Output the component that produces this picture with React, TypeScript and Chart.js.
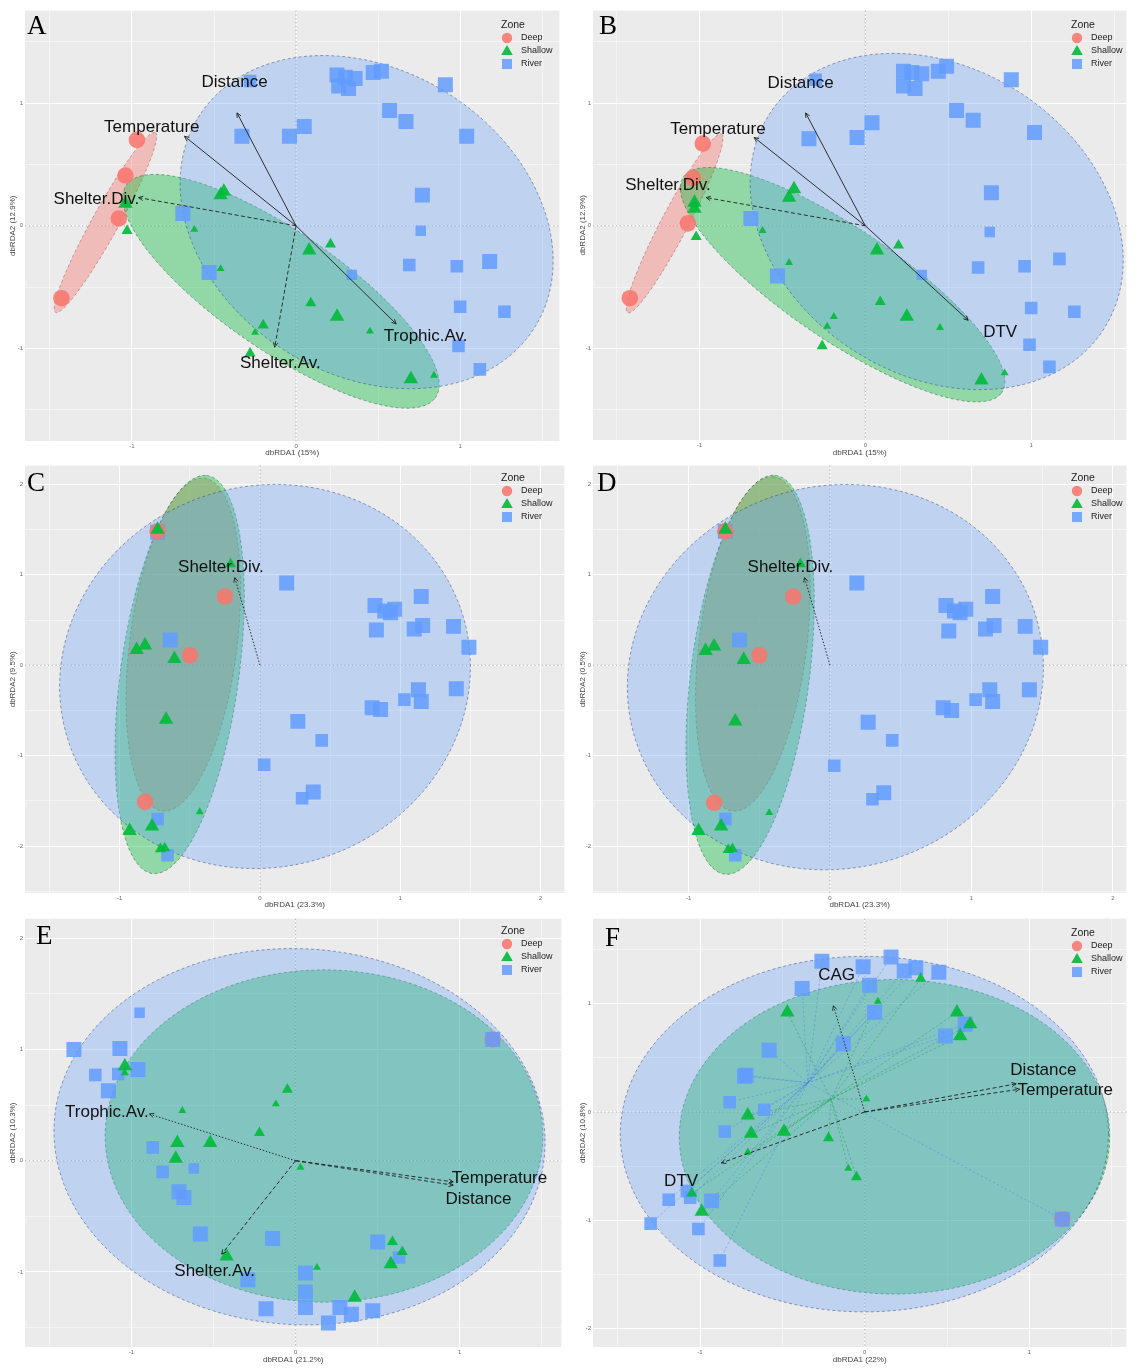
import React, { useEffect, useRef } from "react";
import { Chart, registerables } from "chart.js";

Chart.register(...registerables);
Chart.defaults.font.family = '"Liberation Sans", Arial, sans-serif';

type P2 = [number, number];
type P3 = [number, number, number]; // x, y, size class (1 small .. 3 large)

const ZONES = ["Deep", "Shallow", "River"];

// ---------------- Panel A ----------------
const A_DEEP: P3[] = [[-0.97, 0.70, 3], [-1.04, 0.41, 3], [-1.08, 0.06, 3], [-1.43, -0.59, 3]];
const A_SHALLOW: P3[] = [
  [-0.44, 0.28, 3], [-0.46, 0.25, 3], [-1.04, 0.18, 3], [-1.03, -0.04, 2], [-0.62, -0.03, 1],
  [-0.46, -0.35, 1], [0.08, -0.20, 3], [0.21, -0.15, 2], [0.09, -0.63, 2], [0.25, -0.74, 3],
  [-0.20, -0.81, 2], [-0.25, -0.87, 1], [0.45, -0.86, 1], [-0.28, -1.04, 2], [0.70, -1.25, 3],
  [0.84, -1.22, 1],
];
const A_RIVER: P3[] = [
  [-0.28, 1.18, 2], [0.25, 1.23, 3], [0.30, 1.21, 3], [0.36, 1.20, 3], [0.26, 1.14, 3],
  [0.32, 1.12, 3], [0.47, 1.25, 3], [0.52, 1.26, 3], [0.91, 1.15, 3], [0.57, 0.94, 3],
  [0.67, 0.85, 3], [0.05, 0.81, 3], [-0.04, 0.73, 3], [-0.33, 0.73, 3], [1.04, 0.73, 3],
  [0.77, 0.25, 3], [-0.69, 0.10, 3], [0.76, -0.04, 1], [0.69, -0.32, 2], [0.98, -0.33, 2],
  [1.18, -0.29, 3], [-0.53, -0.38, 3], [0.34, -0.40, 1], [1.00, -0.66, 2], [1.27, -0.70, 2],
  [0.99, -0.98, 2], [1.12, -1.17, 2],
];
// ellipse: centre x, centre y, axis-1 (x, y), axis-2 (x, y)
const A_ELL_DEEP = [-1.162, 0.027, 0.303, 0.733, 0.074, -0.046];
const A_ELL_SHALLOW = [-0.092, -0.534, 0.936, -0.876, -0.232, -0.375];
const A_ELL_RIVER = [0.43, 0.03, 1.129, -0.162, -0.132, 1.348];
const A_VARS = ["Distance", "Temperature", "Shelter.Div.", "Trophic.Av.", "Shelter.Av."];
const A_TIPS: P2[] = [[-0.36, 0.92], [-0.68, 0.73], [-0.96, 0.23], [0.61, -0.80], [-0.13, -0.99]];
const A_LABELS: P2[] = [[-0.375, 1.172], [-0.879, 0.80], [-1.217, 0.218], [0.79, -0.897], [-0.096, -1.124]];
const A_XTICKS = [-1, 0, 1];
const A_YTICKS = [-1, 0, 1];

// ---------------- Panel B ----------------
const B_DEEP: P3[] = [[-0.98, 0.67, 3], [-1.04, 0.39, 3], [-1.07, 0.02, 3], [-1.42, -0.59, 3]];
const B_SHALLOW: P3[] = [
  [-0.43, 0.30, 3], [-0.46, 0.23, 3], [-1.03, 0.19, 3], [-1.03, 0.14, 3], [-1.02, -0.09, 2],
  [-0.62, -0.04, 1], [-0.46, -0.30, 1], [0.07, -0.20, 3], [0.20, -0.16, 2], [0.09, -0.62, 2],
  [0.25, -0.74, 3], [-0.19, -0.74, 1], [-0.23, -0.82, 1], [0.45, -0.83, 1], [-0.26, -0.98, 2],
  [0.70, -1.26, 3], [0.84, -1.20, 1],
];
const B_RIVER: P3[] = [
  [-0.30, 1.19, 2], [0.23, 1.26, 3], [0.28, 1.25, 3], [0.34, 1.24, 3], [0.23, 1.14, 3],
  [0.30, 1.12, 3], [0.44, 1.26, 3], [0.49, 1.30, 3], [0.88, 1.19, 3], [0.55, 0.94, 3],
  [0.65, 0.86, 3], [0.04, 0.84, 3], [-0.05, 0.72, 3], [-0.34, 0.71, 3], [1.02, 0.76, 3],
  [0.76, 0.27, 3], [-0.69, 0.06, 3], [0.75, -0.05, 1], [0.68, -0.34, 2], [0.96, -0.33, 2],
  [1.17, -0.27, 2], [-0.53, -0.41, 3], [0.34, -0.40, 1], [1.00, -0.67, 2], [1.26, -0.70, 2],
  [0.99, -0.97, 2], [1.11, -1.15, 2],
];
const B_ELL_DEEP = [-1.15, 0.02, 0.282, 0.728, 0.074, -0.044];
const B_ELL_SHALLOW = [-0.137, -0.48, 0.954, -0.889, -0.217, -0.35];
const B_ELL_RIVER = [0.43, 0.035, 1.117, -0.162, -0.13, 1.361];
const B_VARS = ["Distance", "Temperature", "Shelter.Div.", "DTV"];
const B_TIPS: P2[] = [[-0.36, 0.92], [-0.67, 0.72], [-0.96, 0.23], [0.62, -0.77]];
const B_LABELS: P2[] = [[-0.39, 1.164], [-0.889, 0.79], [-1.19, 0.33], [0.813, -0.865]];
const B_XTICKS = [-1, 0, 1];
const B_YTICKS = [-1, 0, 1];

// ---------------- Panel C ----------------
const C_DEEP: P3[] = [[-0.73, 1.48, 3], [-0.25, 0.76, 3], [-0.50, 0.11, 3], [-0.82, -1.51, 3]];
const C_SHALLOW: P3[] = [
  [-0.73, 1.50, 3], [-0.21, 1.12, 2], [-0.88, 0.17, 3], [-0.82, 0.22, 3], [-0.61, 0.07, 3],
  [-0.67, -0.60, 3], [-0.43, -1.62, 1], [-0.93, -1.83, 3], [-0.77, -1.78, 3], [-0.71, -2.03, 2],
  [-0.68, -2.02, 2],
];
const C_RIVER: P3[] = [
  [-0.73, 1.47, 3], [-0.64, 0.28, 3], [0.19, 0.91, 3], [1.15, 0.76, 3], [0.82, 0.66, 3],
  [0.89, 0.60, 3], [0.96, 0.62, 3], [0.93, 0.58, 3], [0.83, 0.39, 3], [1.10, 0.40, 3],
  [1.16, 0.44, 3], [1.38, 0.43, 3], [1.49, 0.20, 3], [1.13, -0.27, 3], [1.40, -0.26, 3],
  [1.03, -0.38, 2], [1.15, -0.40, 3], [0.80, -0.47, 3], [0.86, -0.49, 3], [0.27, -0.62, 3],
  [0.44, -0.83, 2], [0.03, -1.10, 2], [0.38, -1.40, 3], [0.30, -1.47, 2], [-0.73, -1.70, 2],
  [-0.66, -2.10, 2],
];
const C_ELL_DEEP = [-0.547, 0.229, 0.148, 1.84, 0.381, -0.062];
const C_ELL_SHALLOW = [-0.573, -0.102, 0.192, 2.2, 0.419, -0.073];
const C_ELL_RIVER = [0.036, -0.124, 1.465, 0.109, 0, 2.12];
const C_VARS = ["Shelter.Div."];
const C_TIPS: P2[] = [[-0.18, 0.97]];
const C_LABELS: P2[] = [[-0.279, 1.08]];
const C_XTICKS = [-1, 0, 1, 2];
const C_YTICKS = [-2, -1, 0, 1, 2];

// ---------------- Panel D ----------------
const D_DEEP: P3[] = [[-0.74, 1.48, 3], [-0.26, 0.76, 3], [-0.50, 0.11, 3], [-0.82, -1.52, 3]];
const D_SHALLOW: P3[] = [
  [-0.74, 1.50, 3], [-0.21, 1.12, 2], [-0.88, 0.16, 3], [-0.82, 0.21, 3], [-0.61, 0.06, 3],
  [-0.67, -0.62, 3], [-0.43, -1.63, 1], [-0.93, -1.83, 3], [-0.77, -1.78, 3], [-0.72, -2.04, 2],
  [-0.69, -2.03, 2],
];
const D_RIVER: P3[] = [
  [-0.74, 1.48, 3], [-0.64, 0.28, 3], [0.19, 0.91, 3], [1.15, 0.76, 3], [0.82, 0.66, 3],
  [0.88, 0.60, 3], [0.96, 0.62, 3], [0.92, 0.58, 3], [0.84, 0.38, 3], [1.10, 0.40, 3],
  [1.16, 0.44, 3], [1.38, 0.43, 3], [1.49, 0.20, 3], [1.13, -0.27, 3], [1.41, -0.27, 3],
  [1.03, -0.38, 2], [1.15, -0.40, 3], [0.80, -0.47, 3], [0.86, -0.50, 3], [0.27, -0.63, 3],
  [0.44, -0.83, 2], [0.03, -1.11, 2], [0.38, -1.41, 3], [0.30, -1.48, 2], [-0.74, -1.70, 2],
  [-0.67, -2.10, 2],
];
const D_ELL_DEEP = [-0.545, 0.236, 0.145, 1.847, 0.379, -0.062];
const D_ELL_SHALLOW = [-0.565, -0.105, 0.178, 2.204, 0.417, -0.073];
const D_ELL_RIVER = [0.038, -0.131, 1.471, 0.109, 0, 2.127];
const D_VARS = ["Shelter.Div."];
const D_TIPS: P2[] = [[-0.18, 0.97]];
const D_LABELS: P2[] = [[-0.28, 1.08]];
const D_XTICKS = [-1, 0, 1, 2];
const D_YTICKS = [-2, -1, 0, 1, 2];

// ---------------- Panel E ----------------
const E_DEEP: P3[] = [[1.20, 1.09, 3]];
const E_SHALLOW: P3[] = [
  [-1.04, 0.85, 3], [-1.04, 0.79, 1], [-0.05, 0.64, 2], [-0.12, 0.51, 1], [-0.69, 0.45, 1],
  [-0.22, 0.25, 2], [-0.72, 0.16, 3], [-0.52, 0.16, 3], [-0.73, 0.02, 3], [0.03, -0.06, 1],
  [-0.42, -0.86, 3], [0.59, -0.73, 2], [0.65, -0.82, 2], [0.58, -0.93, 3], [0.13, -0.96, 1],
  [0.36, -1.23, 3],
];
const E_RIVER: P3[] = [
  [-0.95, 1.33, 1], [-1.35, 1.00, 3], [-1.07, 1.01, 3], [-1.22, 0.77, 2], [-1.08, 0.78, 2],
  [-0.96, 0.82, 3], [-1.14, 0.63, 3], [-0.87, 0.12, 2], [-0.81, -0.10, 2], [-0.62, -0.07, 1],
  [-0.71, -0.28, 3], [-0.68, -0.33, 3], [-0.58, -0.66, 3], [-0.14, -0.70, 3], [0.50, -0.73, 3],
  [0.63, -0.87, 2], [0.06, -1.01, 3], [-0.29, -1.07, 3], [0.06, -1.18, 3], [0.06, -1.32, 3],
  [-0.18, -1.33, 3], [0.27, -1.32, 3], [0.34, -1.38, 3], [0.47, -1.35, 3], [0.20, -1.46, 3],
  [1.20, 1.09, 3],
];
const E_ELL_SHALLOW = [0.173, 0.222, 1.333, 0, 0, 1.494];
const E_ELL_RIVER = [0.024, 0.216, 1.495, 0, -0.044, 1.692];
const E_VARS = ["Trophic.Av.", "Temperature", "Distance", "Shelter.Av."];
const E_TIPS: P2[] = [[-0.89, 0.42], [0.96, -0.22], [0.96, -0.19], [-0.45, -0.84]];
const E_LABELS: P2[] = [[-1.149, 0.437], [1.242, -0.158], [1.114, -0.344], [-0.493, -0.993]];
const E_XTICKS = [-1, 0, 1];
const E_YTICKS = [-1, 0, 1, 2];

// ---------------- Panel F ----------------
const F_DEEP: P3[] = [[1.20, -0.99, 3]];
const F_SHALLOW: P3[] = [
  [0.34, 1.23, 2], [0.08, 1.02, 1], [-0.47, 0.92, 3], [0.56, 0.92, 3], [0.64, 0.81, 3],
  [0.58, 0.70, 3], [0.01, 0.12, 1], [-0.71, -0.03, 3], [-0.69, -0.20, 3], [-0.49, -0.18, 3],
  [-0.22, -0.24, 2], [-0.71, -0.37, 1], [-0.10, -0.52, 1], [-0.05, -0.60, 2], [-1.05, -0.75, 2],
  [-0.99, -0.92, 3],
];
const F_RIVER: P3[] = [
  [-0.26, 1.39, 3], [-0.01, 1.34, 3], [0.16, 1.43, 3], [0.24, 1.30, 3], [0.31, 1.33, 3],
  [0.45, 1.29, 3], [0.03, 1.17, 3], [-0.38, 1.14, 3], [0.06, 0.92, 3], [0.61, 0.81, 3],
  [0.49, 0.70, 3], [-0.13, 0.63, 3], [-0.58, 0.57, 3], [-0.73, 0.33, 3], [-0.72, 0.34, 3],
  [-0.82, 0.09, 2], [-0.61, 0.02, 2], [-0.85, -0.18, 2], [-1.08, -0.73, 2], [-1.19, -0.81, 2],
  [-1.06, -0.79, 2], [-0.93, -0.82, 3], [-1.30, -1.03, 2], [-1.01, -1.08, 2], [-0.88, -1.37, 2],
  [1.20, -0.99, 3],
];
const F_ELL_SHALLOW = [0.181, -0.229, 1.307, 0, 0, 1.451];
const F_ELL_RIVER = [-0.002, -0.204, 1.482, 0, 0, 1.64];
const F_VARS = ["CAG", "Distance", "Temperature", "DTV"];
const F_TIPS: P2[] = [[-0.19, 0.98], [0.92, 0.26], [0.94, 0.21], [-0.87, -0.47]];
const F_LABELS: P2[] = [[-0.171, 1.263], [1.085, 0.384], [1.217, 0.201], [-1.115, -0.64]];
const F_XTICKS = [-1, 0, 1];
const F_YTICKS = [-2, -1, 0, 1];

// ---------------- styling ----------------
const COL = {
  deep: "rgba(248,118,109,0.88)",
  shallow: "rgba(0,186,56,0.9)",
  river: "rgba(97,156,255,0.85)",
  deepFill: "rgba(248,118,109,0.40)",
  shallowFill: "rgba(0,186,56,0.38)",
  riverFill: "rgba(100,160,250,0.32)",
  deepLine: "rgba(150,60,55,0.55)",
  shallowLine: "rgba(20,90,45,0.6)",
  riverLine: "rgba(40,60,120,0.6)",
};
const DASH: Record<string, number[]> = { solid: [], dashed: [4, 2.5], dotted: [1.5, 1.8] };
const RADIUS: Record<string, number[]> = {
  rect: [0, 7.4, 8.9, 10.6],
  triangle: [0, 4.6, 6.4, 8.3],
  circle: [0, 5.5, 6.8, 8.3],
};

interface Box { l: number; t: number; w: number; h: number }
interface PBox { l: number; t: number; r: number; b: number }
interface Spec {
  letter: string;
  canvas: Box;
  plot: PBox;
  xRange: P2;
  yRange: P2;
  xTicks: number[];
  yTicks: number[];
  xTitle: string;
  yTitle: string;
  xTitleY: number;
  letterPos: P2;
  deep: P3[];
  shallow: P3[];
  river: P3[];
  ellDeep?: number[];
  ellShallow?: number[];
  ellRiver?: number[];
  vars: string[];
  tips: P2[];
  labels: P2[];
  dashes: string[];
  spider?: boolean;
  riverOverDeep?: boolean;
}

const SPECS: Spec[] = [
  {
    letter: "A", canvas: { l: 0, t: 0, w: 570, h: 460 }, plot: { l: 25, t: 7, r: 565, b: 441 },
    xRange: [-1.652, 1.605], yRange: [-1.754, 1.754], xTicks: A_XTICKS, yTicks: A_YTICKS,
    xTitle: "dbRDA1 (15%)", yTitle: "dbRDA2 (12.9%)", xTitleY: 453, letterPos: [27, 15],
    deep: A_DEEP, shallow: A_SHALLOW, river: A_RIVER,
    ellDeep: A_ELL_DEEP, ellShallow: A_ELL_SHALLOW, ellRiver: A_ELL_RIVER,
    vars: A_VARS, tips: A_TIPS, labels: A_LABELS,
    dashes: ["solid", "solid", "dashed", "solid", "dashed"],
  },
  {
    letter: "B", canvas: { l: 570, t: 0, w: 567, h: 460 }, plot: { l: 593, t: 7, r: 1132, b: 440 },
    xRange: [-1.642, 1.574], yRange: [-1.746, 1.754], xTicks: B_XTICKS, yTicks: B_YTICKS,
    xTitle: "dbRDA1 (15%)", yTitle: "dbRDA2 (12.9%)", xTitleY: 453, letterPos: [599, 15],
    deep: B_DEEP, shallow: B_SHALLOW, river: B_RIVER,
    ellDeep: B_ELL_DEEP, ellShallow: B_ELL_SHALLOW, ellRiver: B_ELL_RIVER,
    vars: B_VARS, tips: B_TIPS, labels: B_LABELS,
    dashes: ["solid", "solid", "dashed", "solid"],
  },
  {
    letter: "C", canvas: { l: 0, t: 455, w: 575, h: 455 }, plot: { l: 25, t: 460, r: 572, b: 893 },
    xRange: [-1.676, 2.171], yRange: [-2.517, 2.207], xTicks: C_XTICKS, yTicks: C_YTICKS,
    xTitle: "dbRDA1 (23.3%)", yTitle: "dbRDA2 (9.5%)", xTitleY: 905, letterPos: [27, 472],
    deep: C_DEEP, shallow: C_SHALLOW, river: C_RIVER,
    ellDeep: C_ELL_DEEP, ellShallow: C_ELL_SHALLOW, ellRiver: C_ELL_RIVER,
    vars: C_VARS, tips: C_TIPS, labels: C_LABELS, dashes: ["dotted"],
  },
  {
    letter: "D", canvas: { l: 570, t: 455, w: 567, h: 455 }, plot: { l: 593, t: 460, r: 1132, b: 893 },
    xRange: [-1.676, 2.096], yRange: [-2.517, 2.207], xTicks: D_XTICKS, yTicks: D_YTICKS,
    xTitle: "dbRDA1 (23.3%)", yTitle: "dbRDA2 (0.5%)", xTitleY: 905, letterPos: [597, 472],
    deep: D_DEEP, shallow: D_SHALLOW, river: D_RIVER,
    ellDeep: D_ELL_DEEP, ellShallow: D_ELL_SHALLOW, ellRiver: D_ELL_RIVER,
    vars: D_VARS, tips: D_TIPS, labels: D_LABELS, dashes: ["dotted"],
  },
  {
    letter: "E", canvas: { l: 0, t: 908, w: 572, h: 460 }, plot: { l: 25, t: 913, r: 568, b: 1347 },
    xRange: [-1.648, 1.619], yRange: [-1.675, 2.177], xTicks: E_XTICKS, yTicks: E_YTICKS,
    xTitle: "dbRDA1 (21.2%)", yTitle: "dbRDA2 (10.3%)", xTitleY: 1360, letterPos: [36, 925],
    deep: E_DEEP, shallow: E_SHALLOW, river: E_RIVER,
    ellShallow: E_ELL_SHALLOW, ellRiver: E_ELL_RIVER,
    vars: E_VARS, tips: E_TIPS, labels: E_LABELS,
    dashes: ["dotted", "dashed", "dashed", "dashed"], riverOverDeep: true,
  },
  {
    letter: "F", canvas: { l: 570, t: 908, w: 567, h: 460 }, plot: { l: 593, t: 915, r: 1132, b: 1347 },
    xRange: [-1.65, 1.589], yRange: [-2.168, 1.784], xTicks: F_XTICKS, yTicks: F_YTICKS,
    xTitle: "dbRDA1 (22%)", yTitle: "dbRDA2 (10.8%)", xTitleY: 1360, letterPos: [605, 927],
    deep: F_DEEP, shallow: F_SHALLOW, river: F_RIVER,
    ellShallow: F_ELL_SHALLOW, ellRiver: F_ELL_RIVER,
    vars: F_VARS, tips: F_TIPS, labels: F_LABELS,
    dashes: ["dotted", "dashed", "dashed", "dashed"], spider: true, riverOverDeep: true,
  },
];

function ellipseData(e: number[]) {
  const [cx, cy, ux, uy, vx, vy] = e;
  const out: { x: number; y: number }[] = [];
  const n = 180;
  for (let k = 0; k <= n; k++) {
    const t = (k / n) * Math.PI * 2;
    out.push({ x: cx + ux * Math.cos(t) + vx * Math.sin(t), y: cy + uy * Math.cos(t) + vy * Math.sin(t) });
  }
  return out;
}

function centroid(arr: P3[]): P2 {
  let sx = 0, sy = 0;
  arr.forEach((p) => { sx += p[0]; sy += p[1]; });
  return [sx / arr.length, sy / arr.length];
}

function buildDatasets(s: Spec) {
  const ds: any[] = [];
  s.vars.forEach((name, i) => {
    ds.push({
      type: "scatter", label: name,
      data: [{ x: 0, y: 0 }, { x: s.tips[i][0], y: s.tips[i][1] }],
      showLine: true, fill: false, borderColor: "#1e1e1e", borderWidth: 0.9,
      borderDash: DASH[s.dashes[i]], pointRadius: 0, order: 0,
    });
  });
  const pts = (arr: P3[], style: string, color: string, order: number, label: string) => ({
    type: "scatter", label,
    data: arr.map((p) => ({ x: p[0], y: p[1], s: p[2] })),
    pointStyle: style,
    pointRadius: (c: any) => RADIUS[style][c.raw && c.raw.s ? c.raw.s : 3],
    pointHoverRadius: (c: any) => RADIUS[style][c.raw && c.raw.s ? c.raw.s : 3],
    backgroundColor: color, pointBackgroundColor: color, pointBorderWidth: 0, borderWidth: 0,
    showLine: false, order,
  });
  ds.push(pts(s.shallow, "triangle", COL.shallow, 1, "Shallow"));
  if (s.riverOverDeep) {
    ds.push(pts(s.river, "rect", COL.river, 2, "River"));
    ds.push(pts(s.deep, "circle", COL.deep, 3, "Deep"));
  } else {
    ds.push(pts(s.deep, "circle", COL.deep, 2, "Deep"));
    ds.push(pts(s.river, "rect", COL.river, 3, "River"));
  }
  if (s.spider) {
    const cr = centroid(s.river);
    const cs = centroid(s.shallow);
    s.river.forEach((p) => ds.push({
      type: "scatter", data: [{ x: p[0], y: p[1] }, { x: cr[0], y: cr[1] }], showLine: true, fill: false,
      borderColor: "rgba(60,120,235,0.55)", borderWidth: 0.7, borderDash: [2.5, 2], pointRadius: 0, order: 5,
    }));
    s.shallow.forEach((p) => ds.push({
      type: "scatter", data: [{ x: p[0], y: p[1] }, { x: cs[0], y: cs[1] }], showLine: true, fill: false,
      borderColor: "rgba(0,150,50,0.55)", borderWidth: 0.7, borderDash: [2.5, 2], pointRadius: 0, order: 5,
    }));
  }
  const ell = (e: number[], fillC: string, lineC: string, order: number, label: string) => ({
    type: "scatter", label, data: ellipseData(e), showLine: true, fill: "shape",
    backgroundColor: fillC, borderColor: lineC, borderWidth: 0.8, borderDash: [3, 2.5],
    pointRadius: 0, tension: 0, order,
  });
  if (s.ellRiver) ds.push(ell(s.ellRiver, COL.riverFill, COL.riverLine, 6, "River ellipse"));
  if (s.ellShallow) ds.push(ell(s.ellShallow, COL.shallowFill, COL.shallowLine, 7, "Shallow ellipse"));
  if (s.ellDeep) ds.push(ell(s.ellDeep, COL.deepFill, COL.deepLine, 8, "Deep ellipse"));
  return ds;
}

function makePlugin(s: Spec) {
  return {
    id: "decor" + s.letter,
    beforeDraw(chart: any) {
      const { ctx, chartArea: a } = chart;
      ctx.save();
      ctx.fillStyle = "#EBEBEB";
      ctx.fillRect(a.left, a.top, a.right - a.left, a.bottom - a.top);
      ctx.restore();
    },
    beforeDatasetsDraw(chart: any) {
      const { ctx, chartArea: a, scales } = chart;
      const x0 = scales.x.getPixelForValue(0);
      const y0 = scales.y.getPixelForValue(0);
      ctx.save();
      ctx.strokeStyle = "rgba(125,125,125,0.85)";
      ctx.lineWidth = 0.7;
      ctx.setLineDash([1.4, 2.4]);
      ctx.beginPath();
      ctx.moveTo(x0, a.top); ctx.lineTo(x0, a.bottom);
      ctx.moveTo(a.left, y0); ctx.lineTo(a.right, y0);
      ctx.stroke();
      ctx.restore();
    },
    afterDraw(chart: any) {
      const { ctx, scales } = chart;
      const xs = scales.x, ys = scales.y;
      const ox = xs.getPixelForValue(0), oy = ys.getPixelForValue(0);
      ctx.save();
      ctx.strokeStyle = "#1e1e1e";
      ctx.lineWidth = 0.9;
      ctx.setLineDash([]);
      s.tips.forEach((t) => {
        const tx = xs.getPixelForValue(t[0]);
        const ty = ys.getPixelForValue(t[1]);
        const ang = Math.atan2(ty - oy, tx - ox);
        const L = 5;
        ctx.beginPath();
        ctx.moveTo(tx - L * Math.cos(ang - 0.45), ty - L * Math.sin(ang - 0.45));
        ctx.lineTo(tx, ty);
        ctx.lineTo(tx - L * Math.cos(ang + 0.45), ty - L * Math.sin(ang + 0.45));
        ctx.stroke();
      });
      ctx.fillStyle = "#111";
      ctx.font = '17px "Liberation Sans", Arial, sans-serif';
      ctx.textAlign = "center";
      ctx.textBaseline = "middle";
      s.vars.forEach((name, i) => {
        ctx.fillText(name, xs.getPixelForValue(s.labels[i][0]), ys.getPixelForValue(s.labels[i][1]));
      });
      ctx.fillStyle = "#000";
      ctx.font = '27px "Liberation Serif", "Times New Roman", serif';
      ctx.textAlign = "left";
      ctx.textBaseline = "alphabetic";
      ctx.fillText(s.letter, s.letterPos[0] - s.canvas.l, s.letterPos[1] - s.canvas.t + 18.5);
      const lx = 507;
      const top = s.plot.t - s.canvas.t;
      ctx.fillStyle = "#222";
      ctx.font = '10.5px "Liberation Sans", Arial, sans-serif';
      ctx.textBaseline = "middle";
      ctx.fillText("Zone", lx - 6, top + 18.5);
      const rows = [top + 31, top + 44, top + 57];
      ctx.fillStyle = COL.deep;
      ctx.beginPath(); ctx.arc(lx, rows[0], 5.2, 0, Math.PI * 2); ctx.fill();
      ctx.fillStyle = COL.shallow;
      ctx.beginPath();
      ctx.moveTo(lx, rows[1] - 6); ctx.lineTo(lx + 5.8, rows[1] + 4); ctx.lineTo(lx - 5.8, rows[1] + 4);
      ctx.closePath(); ctx.fill();
      ctx.fillStyle = COL.river;
      ctx.fillRect(lx - 5, rows[2] - 5, 10, 10);
      ctx.fillStyle = "#222";
      ctx.font = '9px "Liberation Sans", Arial, sans-serif';
      ZONES.forEach((z, i) => ctx.fillText(z, lx + 14, rows[i]));
      ctx.restore();
    },
  };
}

function allTicks(min: number, max: number) {
  const out: number[] = [];
  for (let v = Math.ceil(min * 2) / 2; v <= max + 1e-9; v += 0.5) out.push(Math.round(v * 2) / 2);
  return out;
}

function buildConfig(s: Spec): any {
  const padTop = s.plot.t - s.canvas.t;
  const padRight = s.canvas.l + s.canvas.w - s.plot.r;
  const yAxisW = s.plot.l - s.canvas.l;
  const xAxisH = s.canvas.t + s.canvas.h - s.plot.b;
  const titleFont = 8;
  const lh = titleFont * 1.2;
  const xTitlePadBottom = Math.max(0, s.canvas.t + s.canvas.h - s.xTitleY - lh / 2);
  const yTitlePadTop = Math.max(0, 12.5 - lh / 2);
  const xAll = allTicks(s.xRange[0], s.xRange[1]);
  const yAll = allTicks(s.yRange[0], s.yRange[1]);
  const isMajor = (v: number, majors: number[]) => majors.some((m) => Math.abs(m - v) < 1e-6);
  const gridW = (majors: number[]) => (c: any) => (c.tick && isMajor(c.tick.value, majors) ? 1 : 0.5);
  return {
    type: "scatter",
    data: { datasets: buildDatasets(s) },
    options: {
      responsive: false,
      maintainAspectRatio: false,
      animation: false,
      events: [],
      devicePixelRatio: 1,
      layout: { padding: { left: 0, top: padTop, right: padRight, bottom: 0 } },
      plugins: { legend: { display: false }, tooltip: { enabled: false } },
      scales: {
        x: {
          type: "linear", position: "bottom", min: s.xRange[0], max: s.xRange[1],
          afterBuildTicks: (sc: any) => { sc.ticks = xAll.map((v) => ({ value: v })); },
          afterFit: (sc: any) => {
            sc.height = xAxisH;
            sc.paddingLeft = 0; sc.paddingRight = 0; sc.paddingTop = 0; sc.paddingBottom = 0;
          },
          border: { display: false },
          grid: { color: "#ffffff", lineWidth: gridW(s.xTicks), drawTicks: false },
          ticks: {
            autoSkip: false, maxRotation: 0, padding: 2, color: "#6a6a6a",
            font: { size: 6 },
            callback: (v: number) => (isMajor(v, s.xTicks) ? String(Math.round(v)) : ""),
          },
          title: {
            display: true, text: s.xTitle, color: "#444", font: { size: titleFont },
            padding: { top: 0, bottom: xTitlePadBottom },
          },
        },
        y: {
          type: "linear", position: "left", min: s.yRange[0], max: s.yRange[1],
          afterBuildTicks: (sc: any) => { sc.ticks = yAll.map((v) => ({ value: v })); },
          afterFit: (sc: any) => {
            sc.width = yAxisW;
            sc.paddingLeft = 0; sc.paddingRight = 0; sc.paddingTop = 0; sc.paddingBottom = 0;
          },
          border: { display: false },
          grid: { color: "#ffffff", lineWidth: gridW(s.yTicks), drawTicks: false },
          ticks: {
            autoSkip: false, padding: 2, color: "#6a6a6a",
            font: { size: 6 },
            callback: (v: number) => (isMajor(v, s.yTicks) ? String(Math.round(v)) : ""),
          },
          title: {
            display: true, text: s.yTitle, color: "#444", font: { size: titleFont },
            padding: { top: yTitlePadTop, bottom: 0 },
          },
        },
      },
    },
    plugins: [makePlugin(s)],
  };
}

function Panel({ spec }: { spec: Spec }) {
  const ref = useRef<HTMLCanvasElement | null>(null);
  useEffect(() => {
    if (!ref.current) return;
    const chart = new Chart(ref.current, buildConfig(spec));
    return () => chart.destroy();
  }, [spec]);
  return (
    <canvas
      ref={ref}
      width={spec.canvas.w}
      height={spec.canvas.h}
      style={{
        position: "absolute",
        left: spec.canvas.l,
        top: spec.canvas.t,
        width: spec.canvas.w,
        height: spec.canvas.h,
      }}
    />
  );
}

export default function App() {
  return (
    <div style={{ position: "absolute", left: 0, top: 0, width: 1137, height: 1368, background: "#ffffff" }}>
      {SPECS.map((s) => (
        <Panel key={s.letter} spec={s} />
      ))}
    </div>
  );
}
